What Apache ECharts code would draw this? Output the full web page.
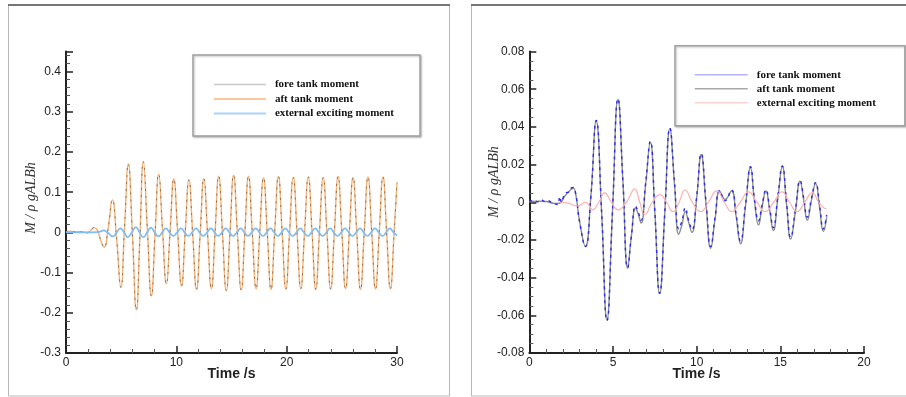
<!DOCTYPE html>
<html>
<head>
<meta charset="utf-8">
<script src="https://cdn.jsdelivr.net/npm/echarts@6.0.0/dist/echarts.min.js"></script>
<style>
  html, body { margin: 0; padding: 0; background: #ffffff; }
  #chart { width: 906px; height: 397px; }
</style>
</head>
<body>
<div id="chart"></div>
<script>
// ---------- data ----------
const legendNames = ['fore tank moment', 'aft tank moment', 'external exciting moment'];
const xTitle = 'Time /s';
const yTitle = 'M / \u03C1 gALBh';

// Left panel: [time s, M/ρgALBh]
const leftFore = [[0,0.002],[0.4,0.003],[0.8,0.002],[1.2,0.002],[1.6,0.001],[1.9,-0.001],[2.2,0.004],[2.55,0.012],[2.85,0.005],[3.15,-0.02],[3.45,-0.037],[3.82,0.01],[4.2,0.081],[4.6,-0.02],[4.97,-0.137],[5.31,0.015],[5.65,0.170],[6.01,0.0],[6.38,-0.193],[6.7,-0.01],[7.01,0.176],[7.37,0.01],[7.74,-0.158],[8.07,-0.005],[8.40,0.145],[8.75,0.005],[9.10,-0.128],[9.43,0.0],[9.77,0.133],[10.12,0.0],[10.47,-0.133],[10.8,-0.002],[11.14,0.131],[11.48,-0.003],[11.83,-0.142],[12.16,-0.004],[12.49,0.134],[12.83,-0.003],[13.18,-0.140],[13.51,0],[13.84,0.140],[14.18,-0.002],[14.53,-0.145],[14.86,-0.002],[15.19,0.142],[15.53,0],[15.88,-0.143],[16.21,0],[16.54,0.140],[16.88,0],[17.23,-0.140],[17.56,0],[17.90,0.136],[18.24,0],[18.58,-0.142],[18.91,0],[19.25,0.139],[19.59,0],[19.93,-0.141],[20.26,0],[20.60,0.137],[20.94,0],[21.28,-0.140],[21.62,0],[21.96,0.138],[22.3,0],[22.64,-0.142],[22.97,0],[23.31,0.136],[23.65,0],[23.99,-0.141],[24.32,0],[24.66,0.139],[25.0,0],[25.34,-0.140],[25.68,0],[26.02,0.137],[26.35,0],[26.69,-0.142],[27.03,0],[27.37,0.138],[27.71,0],[28.05,-0.141],[28.39,0],[28.73,0.138],[29.06,0],[29.40,-0.140],[29.74,0],[30.0,0.124]];
// the aft tank curve lies on top of the fore tank curve in the reference
const leftAft = leftFore;
const leftExt = [[0,0],[1,0],[2,0],[2.8,0.0005],[3.1,0.002],[3.4,0.005],[3.8,-0.001],[4.25,-0.010],[4.6,0],[4.93,0.010],[5.27,0],[5.6,-0.012],[5.97,0],[6.33,0.013],[6.67,0],[7.0,-0.012],[7.35,0],[7.7,0.012],[8.04,0],[8.38,-0.010],[8.72,0],[9.05,0.010],[9.38,0],[9.72,-0.009],[10.07,0],[10.42,0.010],[10.75,0],[11.09,-0.009],[11.43,0],[11.78,0.010],[12.11,0],[12.44,-0.009],[12.79,0],[13.13,0.010],[13.46,0],[13.79,-0.009],[14.14,0],[14.48,0.010],[14.81,0],[15.14,-0.009],[15.49,0],[15.83,0.010],[16.16,0],[16.49,-0.009],[16.84,0],[17.18,0.010],[17.52,0],[17.85,-0.009],[18.19,0],[18.53,0.010],[18.86,0],[19.2,-0.009],[19.54,0],[19.88,0.010],[20.21,0],[20.55,-0.009],[20.89,0],[21.23,0.010],[21.57,0],[21.91,-0.009],[22.25,0],[22.59,0.010],[22.92,0],[23.26,-0.009],[23.6,0],[23.94,0.010],[24.27,0],[24.61,-0.009],[24.95,0],[25.29,0.010],[25.63,0],[25.97,-0.009],[26.3,0],[26.64,0.010],[26.98,0],[27.32,-0.009],[27.66,0],[28.0,0.010],[28.34,0],[28.68,-0.009],[29.01,0],[29.35,0.010],[29.68,0],[30.0,-0.008]];

// Right panel
const rightFore = [[0,0.0005],[0.3,0.001],[0.5,0.0002],[0.7,0.0015],[0.9,0.0004],[1.1,0.0008],[1.3,0.0001],[1.5,-0.0008],[1.7,-0.0012],[1.82,0.003],[1.92,0.0],[2.05,0.003],[2.2,0.005],[2.35,0.0055],[2.5,0.0075],[2.62,0.0078],[2.78,0.004],[3.0,-0.01],[3.35,-0.0235],[3.67,0.002],[4.0,0.0434],[4.32,-0.005],[4.64,-0.0628],[4.97,-0.005],[5.3,0.0549],[5.6,0.01],[5.88,-0.0347],[6.1,-0.018],[6.35,-0.002],[6.5,-0.005],[6.68,-0.0095],[6.95,0.01],[7.23,0.0322],[7.5,-0.005],[7.79,-0.0483],[8.1,-0.005],[8.4,0.0393],[8.68,0.01],[8.93,-0.0140],[9.12,-0.01],[9.32,-0.003],[9.5,-0.009],[9.72,-0.0145],[10.0,0.003],[10.27,0.0257],[10.56,0.0],[10.84,-0.0235],[11.1,-0.008],[11.38,0.0062],[11.7,0.0008],[12.08,0.0064],[12.35,-0.006],[12.62,-0.0205],[12.92,-0.001],[13.22,0.0188],[13.45,0.002],[13.7,-0.0098],[13.9,-0.002],[14.14,0.0066],[14.36,-0.003],[14.58,-0.0135],[14.85,0.003],[15.12,0.0192],[15.37,0.0],[15.62,-0.0186],[15.9,-0.004],[16.18,0.0115],[16.4,0.002],[16.61,-0.0079],[16.86,0.002],[17.11,0.0104],[17.35,-0.002],[17.57,-0.0142],[17.77,-0.0067]];
const rightAft = [[0,0.0003],[0.5,0.0006],[1.0,0.0004],[1.5,-0.0006],[1.8,-0.0005],[2.1,0.003],[2.4,0.006],[2.62,0.0075],[2.78,0.004],[3.0,-0.01],[3.35,-0.0235],[3.67,0.002],[4.0,0.0430],[4.32,-0.005],[4.64,-0.0625],[4.97,-0.005],[5.3,0.0546],[5.6,0.01],[5.88,-0.0350],[6.1,-0.018],[6.35,-0.003],[6.5,-0.006],[6.68,-0.0110],[6.95,0.009],[7.23,0.0318],[7.5,-0.005],[7.79,-0.0485],[8.1,-0.005],[8.4,0.0390],[8.68,0.009],[8.93,-0.0170],[9.12,-0.012],[9.32,-0.005],[9.5,-0.010],[9.72,-0.0160],[10.0,0.002],[10.27,0.0252],[10.56,-0.001],[10.84,-0.0245],[11.1,-0.009],[11.38,0.0058],[11.7,0.0015],[12.08,0.0060],[12.35,-0.007],[12.62,-0.0220],[12.92,-0.002],[13.22,0.0183],[13.45,0.001],[13.7,-0.0120],[13.9,-0.003],[14.14,0.0060],[14.36,-0.004],[14.58,-0.0150],[14.85,0.002],[15.12,0.0188],[15.37,-0.001],[15.62,-0.0195],[15.9,-0.005],[16.18,0.0112],[16.4,0.001],[16.61,-0.0095],[16.86,0.001],[17.11,0.0100],[17.35,-0.003],[17.57,-0.0155],[17.77,-0.0080]];
const rightExt = [[1.8,0],[2.3,-0.0005],[2.9,-0.002],[3.35,0.0],[3.8,-0.004],[4.15,0.0],[4.5,0.005],[4.9,0.0],[5.3,-0.004],[5.8,0.0],[6.3,0.007],[6.6,0.0],[6.9,-0.0065],[7.35,0.0],[7.8,0.004],[8.2,0.0],[8.6,-0.005],[8.95,0.0],[9.3,0.0065],[9.75,0.0],[10.25,-0.005],[10.7,0.0],[11.2,0.006],[11.65,0.0],[12.1,-0.005],[12.6,0.0],[13.1,0.0055],[13.6,0.0],[14.1,-0.005],[14.6,0.0],[15.1,0.0055],[15.55,0.0],[16.0,-0.005],[16.45,0.0],[16.9,0.005],[17.3,0.0],[17.6,-0.003],[17.75,-0.0035]];

// axis ranges / tick labels
const leftX = { min: 0, max: 30, interval: 10 };
const leftY = { min: -0.3, max: 0.45, interval: 0.1 };
const rightX = { min: 0, max: 20, interval: 5 };
const rightY = { min: -0.08, max: 0.08, interval: 0.02 };

// ---------- chart ----------
const chart = echarts.init(document.getElementById('chart'), null, { renderer: 'canvas' });
const axisColor = '#222';
const labelFont = { color: '#222', fontFamily: 'Liberation Sans, Arial, sans-serif', fontSize: 12 };

function xAxis(grid, r, split) {
  return {
    type: 'value', gridIndex: grid, min: r.min, max: r.max, interval: r.interval,
    axisLine: { show: true, onZero: false, lineStyle: { color: axisColor, width: 2 } },
    axisTick: { show: true, inside: true, length: 7, lineStyle: { color: axisColor, width: 1.5 } },
    minorTick: { show: true, splitNumber: split, length: 4, lineStyle: { color: '#555', width: 1 } },
    splitLine: { show: false },
    axisLabel: Object.assign({ margin: 4 }, labelFont)
  };
}
function yAxis(grid, r, split, hideMax) {
  return {
    type: 'value', gridIndex: grid, min: r.min, max: r.max, interval: r.interval,
    axisLine: { show: true, onZero: false, lineStyle: { color: axisColor, width: 2 } },
    axisTick: { show: true, inside: true, length: 7, lineStyle: { color: axisColor, width: 1.5 } },
    minorTick: { show: true, splitNumber: split, length: 4, lineStyle: { color: '#555', width: 1 } },
    splitLine: { show: false },
    axisLabel: Object.assign({ margin: 5, showMaxLabel: !hideMax }, labelFont)
  };
}

const lineBase = { type: 'line', symbol: 'none', showSymbol: false, smooth: 0.5, animation: false, silent: true };

const legendText = { fontFamily: 'Liberation Serif, Times New Roman, serif', fontWeight: 'bold', fontSize: 11, color: '#111', padding: [0, 0, 0, 4] };
const noSymbol = { opacity: 0, color: 'rgba(0,0,0,0)', borderWidth: 0 };

chart.setOption({
  backgroundColor: '#ffffff',
  animation: false,
  grid: [
    { left: 66, top: 51.5, width: 331, height: 301.5 },
    { left: 529.3, top: 51.5, width: 334.7, height: 301.5 }
  ],
  xAxis: [xAxis(0, leftX, 5), xAxis(1, rightX, 5)],
  yAxis: [yAxis(0, leftY, 5, true), yAxis(1, rightY, 4, false)],
  legend: [
    {
      left: 193, top: 55, orient: 'vertical', selectedMode: false,
      padding: [24, 26, 17, 20], itemGap: 3.5, itemWidth: 52, itemHeight: 12,
      borderColor: '#a0a0a0', borderWidth: 1.5, backgroundColor: '#fff',
      shadowColor: 'rgba(0,0,0,0.25)', shadowBlur: 2, shadowOffsetX: 1, shadowOffsetY: 1,
      textStyle: legendText,
      formatter: n => n.trim(),
      data: [
        { name: legendNames[0], itemStyle: noSymbol, lineStyle: { color: '#c8c8c8', width: 1.5, type: 'solid', opacity: 1 } },
        { name: legendNames[1], itemStyle: noSymbol, lineStyle: { color: '#f7b57a', width: 1.5, type: 'solid', opacity: 1 } },
        { name: legendNames[2], itemStyle: noSymbol, lineStyle: { color: '#a9d2f7', width: 1.8, type: 'solid', opacity: 1 } }
      ]
    },
    {
      left: 675, top: 45.7, orient: 'vertical', selectedMode: false,
      padding: [23.5, 29, 17.5, 19], itemGap: 3, itemWidth: 53, itemHeight: 12,
      borderColor: '#a0a0a0', borderWidth: 1.5, backgroundColor: '#fff',
      shadowColor: 'rgba(0,0,0,0.25)', shadowBlur: 2, shadowOffsetX: 1, shadowOffsetY: 1,
      textStyle: legendText,
      formatter: n => n.trim(),
      data: [
        { name: legendNames[0] + ' ', itemStyle: noSymbol, lineStyle: { color: '#b4b4ff', width: 1.5, type: 'solid', opacity: 1 } },
        { name: legendNames[1] + ' ', itemStyle: noSymbol, lineStyle: { color: '#a8a8a8', width: 1.5, type: 'solid', opacity: 1 } },
        { name: legendNames[2] + ' ', itemStyle: noSymbol, lineStyle: { color: '#ffd2d2', width: 1.5, type: 'solid', opacity: 1 } }
      ]
    }
  ],
  series: [
    Object.assign({}, lineBase, { name: legendNames[1], xAxisIndex: 0, yAxisIndex: 0, data: leftAft, z: 2,
      itemStyle: { color: '#f6b274' }, lineStyle: { color: '#f6b274', width: 1.4 } }),
    Object.assign({}, lineBase, { name: legendNames[0], xAxisIndex: 0, yAxisIndex: 0, data: leftFore, z: 3,
      itemStyle: { color: '#c8c8c8' }, lineStyle: { color: '#555', width: 1, type: [2, 5], opacity: 0.7 } }),
    Object.assign({}, lineBase, { name: legendNames[2], xAxisIndex: 0, yAxisIndex: 0, data: leftExt, z: 4,
      itemStyle: { color: '#7dbcf4' }, lineStyle: { color: '#7dbcf4', width: 1.7 } }),

    Object.assign({}, lineBase, { name: legendNames[1] + ' ', xAxisIndex: 1, yAxisIndex: 1, data: rightAft, z: 2,
      itemStyle: { color: '#8c8c8c' }, lineStyle: { color: '#8c8c8c', width: 1.4 } }),
    Object.assign({}, lineBase, { name: legendNames[0] + ' ', xAxisIndex: 1, yAxisIndex: 1, data: rightFore, z: 3,
      itemStyle: { color: '#2b2bf0' }, lineStyle: { color: '#2b2bf0', width: 1.4, type: [3, 4] } }),
    Object.assign({}, lineBase, { name: legendNames[2] + ' ', xAxisIndex: 1, yAxisIndex: 1, data: rightExt, z: 4,
      itemStyle: { color: '#ffb0b0' }, lineStyle: { color: '#ffb0b0', width: 1.2 } })
  ],
  graphic: [
    // panel frames
    { type: 'rect', silent: true, z: -1, shape: { x: 8.5, y: 5, width: 441, height: 391 }, style: { fill: 'none', stroke: '#b8b8b8', lineWidth: 1 } },
    { type: 'line', silent: true, shape: { x1: 8, y1: 5, x2: 450, y2: 5 }, style: { stroke: '#555', lineWidth: 1.5 } },
    { type: 'rect', silent: true, z: -1, shape: { x: 471.5, y: 5, width: 440, height: 391 }, style: { fill: 'none', stroke: '#b8b8b8', lineWidth: 1 } },
    { type: 'line', silent: true, shape: { x1: 471, y1: 5, x2: 906, y2: 5 }, style: { stroke: '#555', lineWidth: 1.5 } },
    // x titles
    { type: 'text', silent: true, x: 231.5, y: 374, style: { text: xTitle, textAlign: 'center', textVerticalAlign: 'middle', font: 'bold 14px "Liberation Sans", Arial, sans-serif', fill: '#222' } },
    { type: 'text', silent: true, x: 696.5, y: 374, style: { text: xTitle, textAlign: 'center', textVerticalAlign: 'middle', font: 'bold 14px "Liberation Sans", Arial, sans-serif', fill: '#222' } },
    // y titles
    { type: 'text', silent: true, x: 31.5, y: 198, rotation: Math.PI / 2, style: { text: yTitle, textAlign: 'center', textVerticalAlign: 'middle', font: 'italic 14px "Liberation Serif", "Times New Roman", serif', fill: '#333' } },
    { type: 'text', silent: true, x: 494, y: 182, rotation: Math.PI / 2, style: { text: yTitle, textAlign: 'center', textVerticalAlign: 'middle', font: 'italic 14px "Liberation Serif", "Times New Roman", serif', fill: '#333' } }
  ]
});
</script>
</body>
</html>
